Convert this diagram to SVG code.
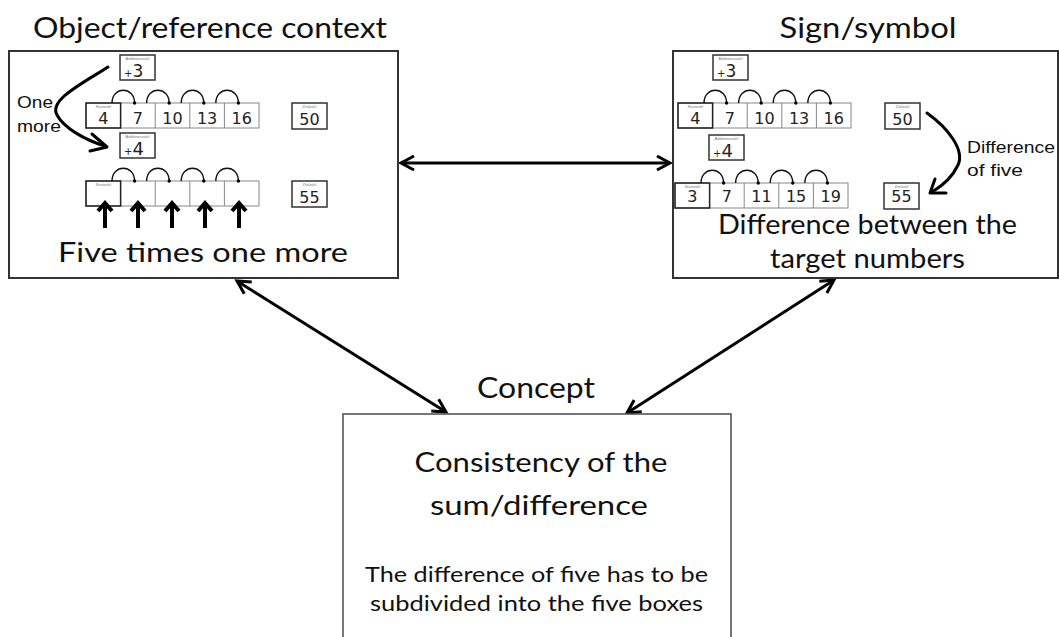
<svg xmlns="http://www.w3.org/2000/svg" xmlns:xlink="http://www.w3.org/1999/xlink" width="1059" height="637" viewBox="0 0 1059 637">
  <style>
    .frame { fill: #fff; stroke: #333; stroke-width: 2; }
    .cframe { fill: #fff; stroke: #555; stroke-width: 1.6; }
    .head { font-family: Lato, "Open Sans", sans-serif; font-size: 29px; fill: #111; text-anchor: middle; }
    .big { font-family: Lato, "Open Sans", sans-serif; font-size: 27px; fill: #111; text-anchor: middle; }
    .small { font-family: Lato, "Open Sans", sans-serif; font-size: 21px; fill: #111; text-anchor: middle; }
    .note { font-family: "Liberation Sans", Arial, sans-serif; font-size: 17px; fill: #111; }
    .hand { font-family: "DejaVu Sans", sans-serif; font-size: 16px; fill: #222; text-anchor: middle; }
    .tiny { font-family: "Liberation Sans", Arial, sans-serif; font-size: 4px; fill: #777; text-anchor: middle; }
    .cell { fill: #fff; stroke: #888; stroke-width: 1; }
    .first { fill: none; stroke: #222; stroke-width: 1.5; }
    .small-box { fill: #fff; stroke: #333; stroke-width: 1.5; }
    .arc { fill: none; stroke: #111; stroke-width: 1.4; }
    .ink { fill: none; stroke: #000; stroke-width: 3; stroke-linecap: round; stroke-linejoin: round; }
    .up { fill: none; stroke: #000; stroke-width: 4; stroke-linejoin: miter; }
    .conn { fill: none; stroke: #000; stroke-width: 3; marker-start: url(#tip); marker-end: url(#tip); }
  </style>
  <defs>
    <marker id="tip" viewBox="0 0 16 16" refX="14" refY="8" markerWidth="16" markerHeight="16" markerUnits="userSpaceOnUse" orient="auto-start-reverse" overflow="visible">
      <path d="M1,1 L14,8 L1,15" fill="none" stroke="#000" stroke-width="3"/>
    </marker>
    <!-- five-cell number strip with jump arcs -->
    <g id="strip">
      <rect class="cell" x="0" y="0" width="173" height="25"/>
      <path class="cell" d="M34.6,0 V25 M69.2,0 V25 M103.8,0 V25 M138.4,0 V25"/>
      <rect class="first" x="0" y="0" width="34.6" height="25"/>
      <text class="tiny" x="17.3" y="5">Startzahl</text>
      <path class="arc" d="M26,0 C26,-17 48.6,-17 48.6,0 M60.6,0 C60.6,-17 83.2,-17 83.2,0 M95.2,0 C95.2,-17 117.8,-17 117.8,0 M129.8,0 C129.8,-17 152.4,-17 152.4,0"/>
      <circle cx="48.6" cy="0" r="1.7"/>
      <circle cx="83.2" cy="0" r="1.7"/>
      <circle cx="117.8" cy="0" r="1.7"/>
      <circle cx="152.4" cy="0" r="1.7"/>
    </g>
    <g id="addbox">
      <rect class="small-box" x="0" y="0" width="35" height="25"/>
      <text class="tiny" x="17.5" y="5">Additionszahl</text>
    </g>
    <g id="goalbox">
      <rect class="small-box" x="0" y="0" width="35" height="26"/>
      <text class="tiny" x="17.5" y="5">Zielzahl</text>
    </g>
  </defs>

  <rect width="1059" height="637" fill="#fff"/>

  <!-- connectors -->
  <g id="connectors">
    <line class="conn" x1="401" y1="163" x2="670" y2="163"/>
    <line class="conn" x1="237" y1="281" x2="446" y2="412"/>
    <line class="conn" x1="834" y1="280" x2="627" y2="413"/>
  </g>

  <!-- object / reference context -->
  <g id="object">
    <text class="head" x="210" y="38" textLength="354" lengthAdjust="spacingAndGlyphs">Object/reference context</text>
    <rect class="frame" x="9" y="51" width="389" height="227"/>
    <use xlink:href="#addbox" x="120" y="55"/>
    <text x="124" y="77" font-family="DejaVu Sans, sans-serif" fill="#222"><tspan font-size="10">+</tspan><tspan font-size="17">3</tspan></text>
    <use xlink:href="#strip" x="86" y="103"/>
    <text class="hand" x="103.3" y="124">4</text>
    <text class="hand" x="137.9" y="124">7</text>
    <text class="hand" x="172.5" y="124">10</text>
    <text class="hand" x="207.1" y="124">13</text>
    <text class="hand" x="241.7" y="124">16</text>
    <use xlink:href="#goalbox" x="292" y="103"/>
    <text class="hand" x="309.5" y="125" font-size="18">50</text>
    <path class="ink" d="M108,67 C85,82 48,100 57,115 C64,128 85,140 105,146"/>
    <path class="ink" d="M92,134 L107,147 L90,151"/>
    <text class="note" x="17" y="108" textLength="36" lengthAdjust="spacingAndGlyphs">One</text>
    <text class="note" x="17" y="132" textLength="44" lengthAdjust="spacingAndGlyphs">more</text>
    <use xlink:href="#addbox" x="120" y="133"/>
    <text x="124" y="155" font-family="DejaVu Sans, sans-serif" fill="#222"><tspan font-size="10">+</tspan><tspan font-size="18">4</tspan></text>
    <use xlink:href="#strip" x="86" y="181"/>
    <use xlink:href="#goalbox" x="292" y="181"/>
    <text class="hand" x="309.5" y="203" font-size="19">55</text>
    <path class="up" d="M105,228 V204 M98,211 L105,203 L112,211"/>
    <path class="up" d="M138,228 V204 M131,211 L138,203 L145,211"/>
    <path class="up" d="M172,228 V204 M165,211 L172,203 L179,211"/>
    <path class="up" d="M205,228 V204 M198,211 L205,203 L212,211"/>
    <path class="up" d="M239,228 V204 M232,211 L239,203 L246,211"/>
    <text class="big" x="203" y="262" textLength="290" lengthAdjust="spacingAndGlyphs">Five times one more</text>
  </g>

  <!-- sign / symbol -->
  <g id="sign">
    <text class="head" x="868" y="38" textLength="177" lengthAdjust="spacingAndGlyphs">Sign/symbol</text>
    <rect class="frame" x="673" y="51" width="385" height="227"/>
    <use xlink:href="#addbox" x="713" y="55"/>
    <text x="717" y="77" font-family="DejaVu Sans, sans-serif" fill="#222"><tspan font-size="10">+</tspan><tspan font-size="17">3</tspan></text>
    <use xlink:href="#strip" x="678" y="103"/>
    <text class="hand" x="695.3" y="124">4</text>
    <text class="hand" x="729.9" y="124">7</text>
    <text class="hand" x="764.5" y="124">10</text>
    <text class="hand" x="799.1" y="124">13</text>
    <text class="hand" x="833.7" y="124">16</text>
    <use xlink:href="#goalbox" x="885" y="103"/>
    <text class="hand" x="902.5" y="125" font-size="18">50</text>
    <use xlink:href="#addbox" x="709" y="135"/>
    <text x="713" y="157" font-family="DejaVu Sans, sans-serif" fill="#222"><tspan font-size="10">+</tspan><tspan font-size="18">4</tspan></text>
    <use xlink:href="#strip" x="675" y="183"/>
    <text class="hand" x="692.3" y="202" font-size="18">3</text>
    <text class="hand" x="726.9" y="202" font-size="17">7</text>
    <text class="hand" x="761.5" y="202" font-size="17">11</text>
    <text class="hand" x="796.1" y="202" font-size="17">15</text>
    <text class="hand" x="830.7" y="202" font-size="17">19</text>
    <use xlink:href="#goalbox" x="884" y="183"/>
    <text class="hand" x="901.5" y="202" font-size="18">55</text>
    <path class="ink" d="M927,113 C948,128 965,150 958,165 C952,178 942,186 932,192"/>
    <path class="ink" d="M935,179 L930,193 L946,193"/>
    <text class="note" x="967" y="153" textLength="88" lengthAdjust="spacingAndGlyphs">Difference</text>
    <text class="note" x="967" y="176" textLength="56" lengthAdjust="spacingAndGlyphs">of five</text>
    <text class="big" x="867.5" y="234" font-size="26" textLength="299" lengthAdjust="spacingAndGlyphs">Difference between the</text>
    <text class="big" x="867.5" y="268" textLength="195" lengthAdjust="spacingAndGlyphs">target numbers</text>
  </g>

  <!-- concept -->
  <g id="concept">
    <text class="head" x="536" y="398" textLength="118" lengthAdjust="spacingAndGlyphs">Concept</text>
    <rect class="cframe" x="343" y="414" width="388" height="240"/>
    <text class="big" x="541" y="472" textLength="253" lengthAdjust="spacingAndGlyphs">Consistency of the</text>
    <text class="big" x="539" y="515" textLength="218" lengthAdjust="spacingAndGlyphs">sum/difference</text>
    <text class="small" x="536.5" y="582" textLength="343" lengthAdjust="spacingAndGlyphs">The difference of five has to be</text>
    <text class="small" x="536.5" y="611" textLength="333" lengthAdjust="spacingAndGlyphs">subdivided into the five boxes</text>
  </g>
</svg>
